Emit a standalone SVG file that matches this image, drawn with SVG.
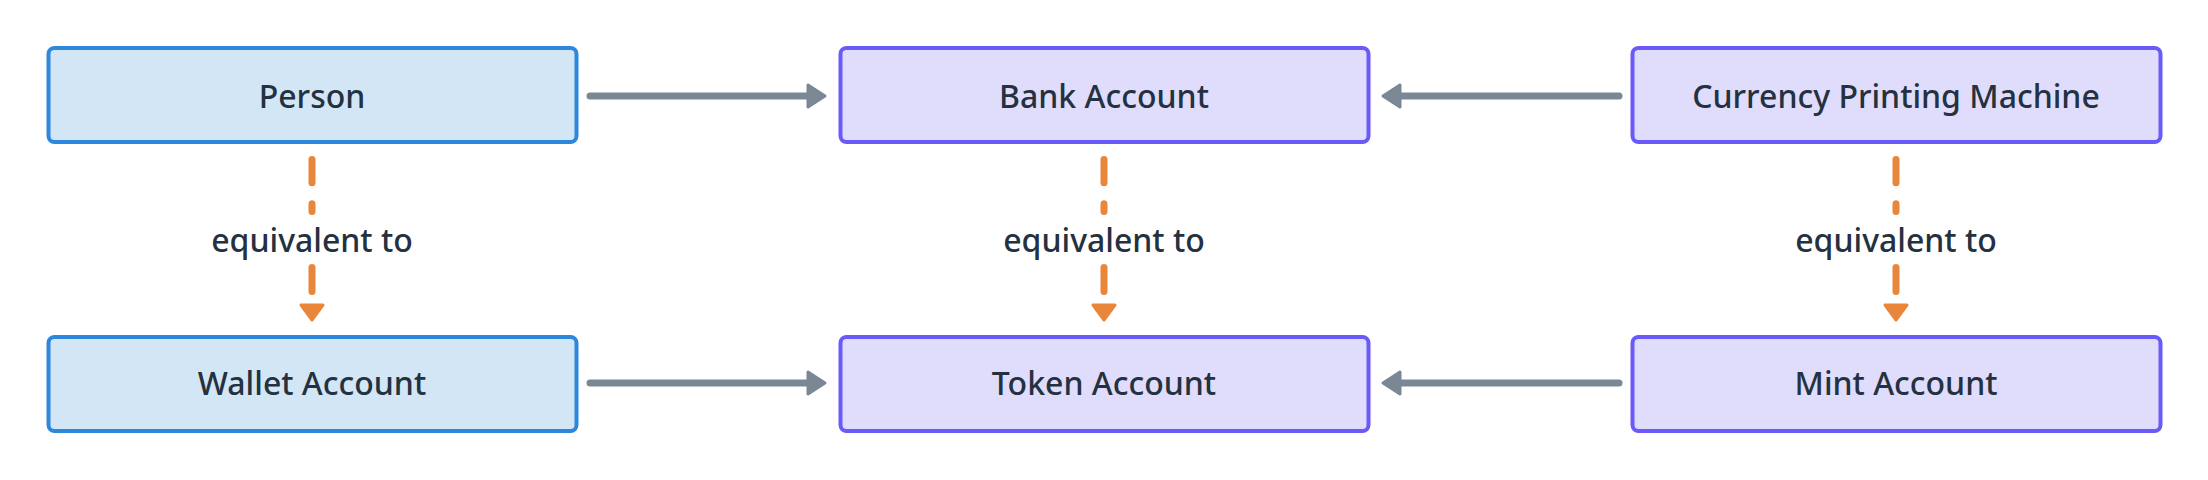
<svg xmlns="http://www.w3.org/2000/svg" width="2208" height="480" viewBox="0 0 2208 480">
<style>
.blue{fill:#D3E6F6;stroke:#2D88DB;stroke-width:4}
.purple{fill:#E0DCFC;stroke:#6A5AF9;stroke-width:4}
.t{font-family:"Noto Sans","Liberation Sans",sans-serif;font-size:32px;font-weight:500;fill:#243140;text-anchor:middle}
.solid{fill:none;stroke:#7A8896;stroke-width:7;stroke-linecap:round}
.sh{fill:#7A8896;stroke:#7A8896;stroke-width:3;stroke-linejoin:round}
.dash{fill:none;stroke:#E8863A;stroke-width:7;stroke-linecap:round;stroke-dasharray:23.2 21 7.8 56 24 200}
.dh{fill:#E8863A;stroke:#E8863A;stroke-width:3;stroke-linejoin:round}
</style>
<rect width="2208" height="480" fill="#FFFFFF"/>
<g id="connectors">
  <g id="person-bank"><path class="solid" d="M590,96 H808"/><polygon class="sh" points="808,85 825,96 808,107"/></g>
  <g id="wallet-token"><path class="solid" d="M590,383 H808"/><polygon class="sh" points="808,372 825,383 808,394"/></g>
  <g id="currency-bank"><path class="solid" d="M1619,96 H1400"/><polygon class="sh" points="1400,85 1383,96 1400,107"/></g>
  <g id="mint-token"><path class="solid" d="M1619,383 H1400"/><polygon class="sh" points="1400,372 1383,383 1400,394"/></g>
  <g id="person-wallet"><path class="dash" d="M312,159.5 V291.5"/><polygon class="dh" points="301,305 323,305 312,320"/><text class="t" x="312" y="252">equivalent to</text></g>
  <g id="bank-token"><path class="dash" d="M1104,159.5 V291.5"/><polygon class="dh" points="1093,305 1115,305 1104,320"/><text class="t" x="1104" y="252">equivalent to</text></g>
  <g id="currency-mint"><path class="dash" d="M1896,159.5 V291.5"/><polygon class="dh" points="1885,305 1907,305 1896,320"/><text class="t" x="1896" y="252">equivalent to</text></g>
</g>
<g id="person"><rect class="blue" x="48.5" y="48" width="528" height="94" rx="6"/><text class="t" x="312" y="108">Person</text></g>
<g id="bank"><rect class="purple" x="840.5" y="48" width="528" height="94" rx="6"/><text class="t" x="1104" y="108">Bank Account</text></g>
<g id="currency"><rect class="purple" x="1632.5" y="48" width="528" height="94" rx="6"/><text class="t" x="1896" y="108">Currency Printing Machine</text></g>
<g id="wallet"><rect class="blue" x="48.5" y="337" width="528" height="94" rx="6"/><text class="t" x="312" y="395">Wallet Account</text></g>
<g id="token"><rect class="purple" x="840.5" y="337" width="528" height="94" rx="6"/><text class="t" x="1104" y="395">Token Account</text></g>
<g id="mint"><rect class="purple" x="1632.5" y="337" width="528" height="94" rx="6"/><text class="t" x="1896" y="395">Mint Account</text></g>
</svg>
